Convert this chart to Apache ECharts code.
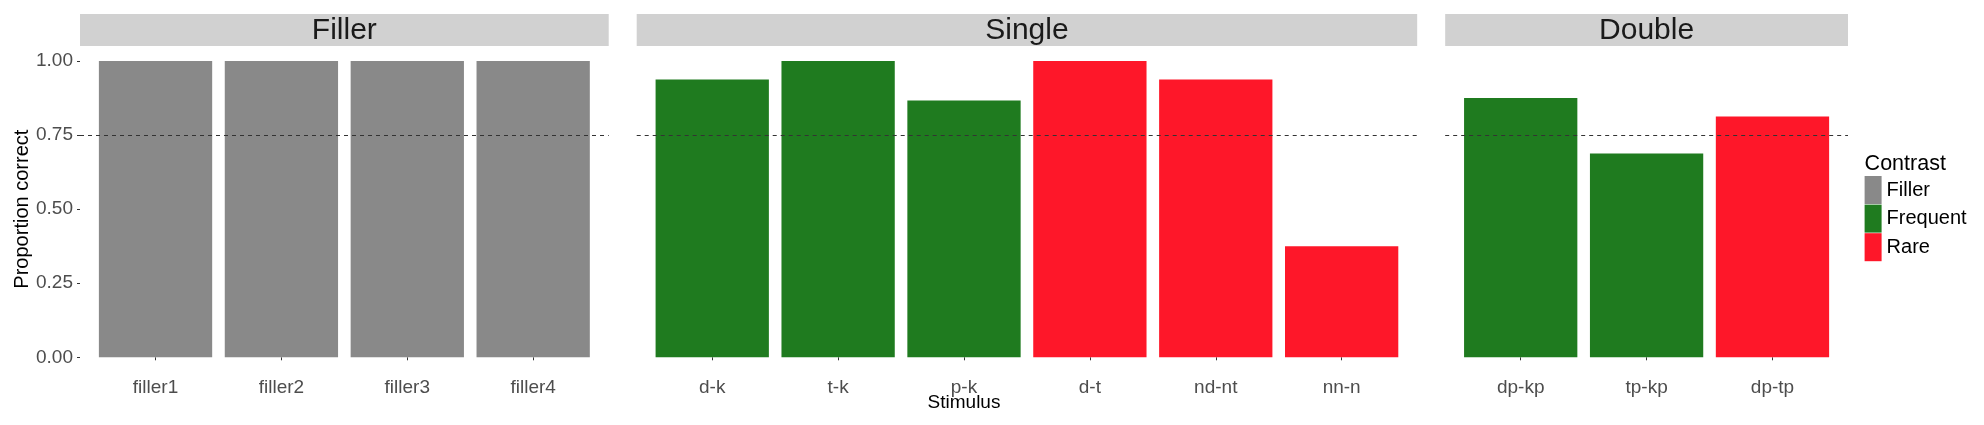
<!DOCTYPE html>
<html><head><meta charset="utf-8">
<script src="https://cdn.jsdelivr.net/npm/echarts@6/dist/echarts.min.js"></script>
<style>html,body{margin:0;padding:0;background:#fff}#c{width:1984px;height:425px}</style>
</head><body><div id="c"></div>
<script>
// ---- data ----
const panelNames = ['Filler', 'Single', 'Double'];
const fillerCats = ['filler1', 'filler2', 'filler3', 'filler4'];
const singleCats = ['d-k', 't-k', 'p-k', 'd-t', 'nd-nt', 'nn-n'];
const doubleCats = ['dp-kp', 'tp-kp', 'dp-tp'];
const fillerVals = [1, 1, 1, 1];
const singleVals = [0.9375, 1, 0.867, 1, 0.9375, 0.375];
const doubleVals = [0.875, 0.6875, 0.8125];
const fillerContrast = ['Filler', 'Filler', 'Filler', 'Filler'];
const singleContrast = ['Frequent', 'Frequent', 'Frequent', 'Rare', 'Rare', 'Rare'];
const doubleContrast = ['Frequent', 'Frequent', 'Rare'];
const contrastLevels = ['Filler', 'Frequent', 'Rare'];
const referenceLine = 0.75;
const yMin = 0, yMax = 1, yStep = 0.25;

// ---- style / layout ----
const colors = { Filler: '#898989', Frequent: '#1f7b1f', Rare: '#fe1729' };
const FONT = '"Liberation Sans", Arial, sans-serif';
const plotLeft = 80, plotRight = 1848, panelGap = 28;
const gridTop = 61, gridBottom = 357.3;
const stripTop = 14, stripH = 32;
const expandY = 0.05 * (gridBottom - gridTop);

const panels = [
  { name: panelNames[0], cats: fillerCats, vals: fillerVals, con: fillerContrast },
  { name: panelNames[1], cats: singleCats, vals: singleVals, con: singleContrast },
  { name: panelNames[2], cats: doubleCats, vals: doubleVals, con: doubleContrast }
];
const totalUnits = panels.reduce((s, p) => s + p.cats.length + 0.2, 0);
const unit = (plotRight - plotLeft - panelGap * (panels.length - 1)) / totalUnits;

const grids = [], xAxes = [], yAxes = [], series = [], graphics = [];
let cursor = plotLeft;
panels.forEach((p, gi) => {
  const n = p.cats.length;
  const w = (n + 0.2) * unit;
  grids.push({ left: cursor, width: w, top: gridTop, height: gridBottom - gridTop });
  const idx = p.cats.map((_, i) => i + 1);
  xAxes.push({
    gridIndex: gi, type: 'value', min: 0.4, max: n + 0.6, offset: expandY,
    axisLine: { show: false }, splitLine: { show: false },
    axisTick: { show: true, customValues: idx, length: 3, lineStyle: { color: '#333', width: 1 } },
    axisLabel: { customValues: idx, formatter: v => p.cats[Math.round(v) - 1] || '', color: '#4d4d4d', fontSize: 19, fontFamily: FONT, margin: 6.5 }
  });
  yAxes.push({
    gridIndex: gi, type: 'value', min: yMin, max: yMax, interval: yStep, show: gi === 0,
    axisLine: { show: false }, splitLine: { show: false },
    axisTick: { show: true, length: 3, lineStyle: { color: '#333', width: 1 } },
    axisLabel: { formatter: v => v.toFixed(2), color: '#4d4d4d', fontSize: 19, fontFamily: FONT, margin: 7 },
    name: gi === 0 ? 'Proportion correct' : '', nameLocation: 'middle', nameGap: 48,
    nameTextStyle: { fontSize: 20, color: '#000', fontFamily: FONT }
  });
  let first = true;
  contrastLevels.forEach(c => {
    const data = [];
    p.cats.forEach((_, i) => { if (p.con[i] === c) data.push([i + 1, p.vals[i]]); });
    if (!data.length) return;
    const s = {
      type: 'bar', name: c, xAxisIndex: gi, yAxisIndex: gi, data,
      barWidth: 0.9 * unit, barGap: '-100%',
      itemStyle: { color: colors[c] }, silent: true
    };
    if (first) {
      s.markLine = {
        silent: true, symbol: 'none', label: { show: false },
        lineStyle: { type: [4, 4], color: '#333', width: 1.1 },
        data: [{ yAxis: referenceLine }]
      };
      first = false;
    }
    series.push(s);
  });
  graphics.push({ type: 'rect', shape: { x: cursor, y: stripTop, width: w, height: stripH }, style: { fill: '#d1d1d1' }, silent: true });
  graphics.push({ type: 'text', x: cursor + w / 2, y: stripTop + stripH / 2 + 0.7, style: { text: p.name, fill: '#1a1a1a', font: '30px ' + FONT, textAlign: 'center', textVerticalAlign: 'middle' }, silent: true });
  cursor += w + panelGap;
});
graphics.push({ type: 'text', x: (plotLeft + plotRight) / 2, y: 403, style: { text: 'Stimulus', fill: '#000', font: '19px ' + FONT, textAlign: 'center', textVerticalAlign: 'middle' }, silent: true });
graphics.push({ type: 'text', x: 1864.6, y: 164.5, style: { text: 'Contrast', fill: '#000', font: '21.5px ' + FONT, textAlign: 'left', textVerticalAlign: 'middle' }, silent: true });

const chart = echarts.init(document.getElementById('c'), null, { renderer: 'canvas' });
chart.setOption({
  animation: false,
  backgroundColor: '#fff',
  grid: grids, xAxis: xAxes, yAxis: yAxes, series,
  legend: {
    data: contrastLevels, orient: 'vertical', left: 1864.6, top: 176, padding: 0,
    itemWidth: 17, itemHeight: 28, itemGap: 0.6, icon: 'rect', selectedMode: false,
    textStyle: { fontSize: 20, color: '#000', fontFamily: FONT }
  },
  graphic: graphics
});
</script></body></html>
